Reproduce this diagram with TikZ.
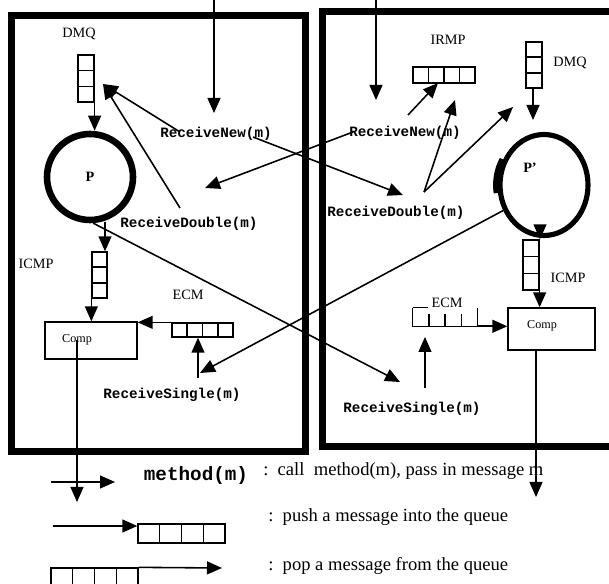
\documentclass[tikz,border=0pt]{standalone}
\usepackage{fontspec}
\setmainfont{Liberation Serif}
\setmonofont{Liberation Mono}
\usepackage{tikz}
\usetikzlibrary{arrows.meta}
\usetikzlibrary{calc}
\usetikzlibrary{shapes.geometric}
\newcommand{\pxu}{0.7pt}
\tikzset{boxframe/.style = {line width = 4.9pt}}
\tikzset{ring/.style = {draw, circle, line width = 4.6pt, inner sep = 0}}
\tikzset{queue/.style = {draw, line width = 0.9pt, inner sep = 0}}
\tikzset{arr/.style = {line width = 1.1pt, -{Triangle[length = 10.5pt, width = 9pt]}}}
\tikzset{lbl/.style = {font = \fontsize{10}{12}\selectfont, inner sep = 0}}
\tikzset{meth/.style = {font = \fontsize{10}{12}\selectfont\ttfamily\bfseries, inner sep = 0}}
\tikzset{keytext/.style = {anchor = base west, inner sep = 0, font = \fontsize{13}{16}\selectfont}}

\begin{document}
\begin{tikzpicture}[x = \pxu, y = -\pxu]
  \useasboundingbox (0, 0) rectangle (609, 584);
  \clip (0, 0) rectangle (609, 584);

  % the two processes
  \draw [boxframe] (11, 16) rectangle (305, 452);
  \draw [boxframe] (322, 12) rectangle (630, 447);

  % left process P
  \node [lbl] (dmqLlbl) at (79, 34) {DMQ};
  \node [queue, minimum width = 16*\pxu, minimum height = 47*\pxu] (dmqL) at (86, 78.5) {};
  \node [ring, minimum size = 86*\pxu, font = \bfseries] (pL) at (90, 177) {P};
  \node [lbl] (icmpLlbl) at (36, 264) {ICMP};
  \node [queue, minimum width = 15*\pxu, minimum height = 46*\pxu] (icmpL) at (99.5, 275) {};
  \node [queue, minimum width = 92*\pxu, minimum height = 37*\pxu] (compL) at (91, 340.5) {};
  \node [lbl, font = \fontsize{8.5}{10}\selectfont] (compLlbl) at (77, 340) {Comp};
  \node [lbl] (ecmLlbl) at (188, 295) {ECM};
  \node [queue, minimum width = 61*\pxu, minimum height = 14*\pxu] (ecmL) at (202.5, 330) {};

  \node [meth] (rnL) at (216, 134) {ReceiveNew(m)};
  \node [meth] (rdL) at (189, 224) {ReceiveDouble(m)};
  \node [meth] (rsL) at (172, 395) {ReceiveSingle(m)};

  % right process P'
  \node [lbl] (irmpRlbl) at (448, 40) {IRMP};
  \node [queue, minimum width = 62*\pxu, minimum height = 16*\pxu] (irmpR) at (444, 75) {};
  \node [lbl] (dmqRlbl) at (570, 63) {DMQ};
  \node [queue, minimum width = 16*\pxu, minimum height = 46*\pxu] (dmqR) at (534, 65) {};
  \node [ring, ellipse, line width = 3.6pt, minimum width = 88*\pxu, minimum height = 101*\pxu] (pR) at (544, 185) {};
  \draw [line width = 3.4pt] (pR.center) ++(150:33.95pt and 36.4pt) arc [start angle = 150, end angle = 189, x radius = 33.95pt, y radius = 36.4pt];
  \node [font = \bfseries, inner sep = 0] (pRlbl) at (530, 168) {P’};
  \node [lbl] (icmpRlbl) at (568, 278) {ICMP};
  \node [queue, minimum width = 16*\pxu, minimum height = 50*\pxu] (icmpR) at (531, 265) {};
  \node [queue, minimum width = 87*\pxu, minimum height = 42*\pxu] (compR) at (551.5, 329) {};
  \node [lbl, font = \fontsize{8.5}{10}\selectfont] (compRlbl) at (542, 326) {Comp};
  \node [lbl] (ecmRlbl) at (447, 303) {ECM};
  \node [minimum width = 64*\pxu, minimum height = 18*\pxu, inner sep = 0] (ecmR) at (445, 317) {};
  \draw [line width = 0.9pt] (ecmR.north west) -- (ecmR.south west) -- (ecmR.south east) -- (ecmR.north east);
  \draw [line width = 0.9pt] (ecmR.north west) -- ++(15, 0);
  \foreach \k in {1, 2, 3}
    \draw [line width = 0.9pt] ($(ecmR.south west)!\k/4!(ecmR.south east)$) -- ++(0, -12);

  \node [meth] (rnR) at (405, 133) {ReceiveNew(m)};
  \node [meth] (rdR) at (396, 213) {ReceiveDouble(m)};
  \node [meth] (rsR) at (412, 409) {ReceiveSingle(m)};

  % key
  \node [queue, minimum width = 87*\pxu, minimum height = 19*\pxu] (pushq) at (181.5, 533.5) {};
  \node [queue, minimum width = 87*\pxu, minimum height = 19*\pxu] (popq) at (94.5, 577.5) {};
  \node [meth, anchor = base, font = \fontsize{13.5}{16}\selectfont\ttfamily\bfseries] (methkey) at (196, 481) {method(m)};
  \node [keytext] (callkey) at (263, 476) {:\enspace call\ \ method(m), pass in message m};
  \node [keytext] (pushkey) at (268, 522) {:\enspace push a message into the queue};
  \node [keytext] (popkey) at (268, 570) {:\enspace pop a message from the queue};

  % cells of the queues
  \foreach \q in {dmqL, icmpL, dmqR, icmpR}
    \foreach \k in {1, 2}
      \draw [line width = 0.9pt] ($(\q.north west)!\k/3!(\q.south west)$) -- ($(\q.north east)!\k/3!(\q.south east)$);
  \foreach \q in {ecmL, irmpR, pushq, popq}
    \foreach \k in {1, 2, 3}
      \draw [line width = 0.9pt] ($(\q.north west)!\k/4!(\q.north east)$) -- ($(\q.south west)!\k/4!(\q.south east)$);

  % calls coming in
  \coordinate (inL) at (214, -5);
  \coordinate (inR) at (376, -5);
  \draw [arr] (inL) -- ++(0, 118);
  \draw [arr] (inR) -- ++(0, 105);

  % inside P
  \coordinate (rnLfrom) at (180, 132);
  \coordinate (rdLfrom) at (180, 208);
  \coordinate (dmqLin) at (103, 84);
  \draw [arr] (rnLfrom) -- (dmqLin);
  \draw [arr] (rdLfrom) -- (dmqLin);
  \draw [arr] (dmqL.south east) -- (dmqL.south east |- pL.north);
  \coordinate (pLbot) at (105, 222);
  \draw [arr] (pLbot) -- (pLbot |- icmpL.north);
  \draw [arr] (icmpL.south west) -- (icmpL.south west |- compL.north);
  \draw [arr] (ecmL.north west) -- (ecmL.north west -| compL.east);
  \coordinate (rsLup) at (198, 378);
  \draw [arr] (rsLup) -- (rsLup |- ecmL.south);
  \coordinate (outL) at (77, 502);
  \draw [arr] (outL |- compLlbl.center) -- (outL);

  % inside P'
  \coordinate (rnRfrom) at (408, 115);
  \coordinate (irmpRin) at (438, 83);
  \draw [arr] (rnRfrom) -- (irmpRin);
  \coordinate (rdRfrom) at (424, 192);
  \coordinate (irmpRin2) at (455, 100);
  \coordinate (dmqRin) at (513, 107);
  \draw [arr] (rdRfrom) -- (irmpRin2);
  \draw [arr] (rdRfrom) -- (dmqRin);
  \coordinate (dmqRout) at (533, 120);
  \draw [arr] (dmqRout |- dmqR.south) -- (dmqRout);
  \coordinate (pRbot) at (540, 226);
  \draw [arr] (pRbot) -- (pRbot |- icmpR.north);
  \draw [arr] (icmpR.south east) -- (icmpR.south east |- compR.north);
  \draw [arr] (ecmR.south east) -- (ecmR.south east -| compR.west);
  \coordinate (rsRup) at (425, 388);
  \draw [arr] (rsRup) -- ++(0, -51);
  \coordinate (outR) at (536, 497);
  \draw [arr] (outR |- compR.south) -- (outR);

  % calls between P and P'
  \coordinate (rnLm) at (253, 137);
  \coordinate (rdRin) at (403, 195);
  \draw [arr] (rnLm) -- (rdRin);
  \coordinate (rnRe) at (353, 132);
  \coordinate (rdLin) at (205, 188);
  \draw [arr] (rnRe) -- (rdLin);
  \coordinate (rsRin) at (400, 382);
  \draw [arr] (pL.-86) -- (rsRin);
  \coordinate (rsLin) at (200, 373);
  \draw [arr] (pR.212) -- (rsLin);

  % key arrows
  \coordinate (keyfrom) at (51, 482);
  \draw [arr] (keyfrom) -- ++(64, 0);
  \coordinate (pushfrom) at (53, 526);
  \draw [arr] (pushfrom) -- (pushfrom -| pushq.west);
  \coordinate (popto) at (222, 568);
  \draw [arr] (popq.north east) -- (popto);
\end{tikzpicture}
\end{document}
